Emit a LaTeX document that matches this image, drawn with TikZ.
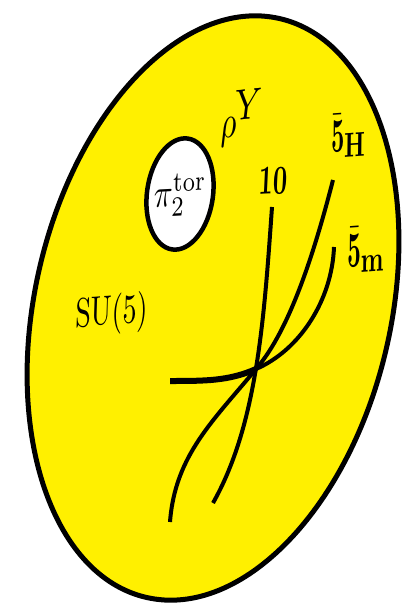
\documentclass[tikz,border=0pt]{standalone}
\usepackage{amsmath}
\usepackage{graphicx}
\definecolor{fillyellow}{RGB}{255,240,0}
\begin{document}
\begin{tikzpicture}[x=1pt,y=-1pt,
  wire/.style={line width=4pt},
  thickwire/.style={line width=6pt},
  lbl/.style={inner sep=0pt, outer sep=0pt, transform shape}
]
\useasboundingbox (0,0) rectangle (404,609);
\fill[white] (0,0) rectangle (404,609);
% outer surface
\draw[line width=5pt, fill=fillyellow, rotate around={-13:(213,308)}]
  (213,308) ellipse [x radius=178, y radius=297];
% hole
\draw[line width=4.5pt, fill=white, rotate around={-8:(180,194)}]
  (180,194) ellipse [x radius=33, y radius=56];
% curve coordinates
\coordinate (tA) at (272,207);
\coordinate (tB) at (213,503);
\coordinate (hA) at (333,180);
\coordinate (X)  at (256,369);
\coordinate (hB) at (170,522);
\coordinate (mA) at (334,247);
\coordinate (mB) at (170,381);
% 10 curve
\draw[wire] (tA) .. controls (264,320) and (257,425) .. (tB);
% 5H curve
\draw[wire] (hA) .. controls (315,250) and (290,330) .. (X)
            .. controls (214,420) and (175,455) .. (hB);
% 5m curve
\draw[wire] (mA) .. controls (332,300) and (300,350) .. (X);
\draw[thickwire] (X) .. controls (229,381) and (205,381) .. (mB);
% labels
\node[lbl, anchor=center, rotate=3, xslant=0.08, xscale=3.1, yscale=4.0] (pi) at (180,195)
  {$\pi_2^{\mathrm{tor}}$};
\node[lbl, anchor=base west, rotate=6, xslant=0.05, xscale=3.3, yscale=4.6] (rho) at (220,139)
  {$\rho^{\scalebox{1.35}{$\scriptstyle Y$}}$};
\node[lbl, anchor=base west, rotate=4, xslant=0.1, xscale=2.8, yscale=4.1] (su) at (75,327)
  {SU$(5)$};
\node[lbl, anchor=base west, rotate=3, xslant=0.1, xscale=2.5, yscale=4.1] (ten) at (258,195)
  {$\mathbf{10}$};
\node[lbl, anchor=base west, rotate=4, xslant=0.08, xscale=2.3, yscale=3.45] (fH) at (331,153)
  {\scalebox{1}[1.4]{$\bar{\mathbf{5}}$}\raisebox{-1.7pt}{$\mathbf{H}$}};
\node[lbl, anchor=base west, rotate=4, xslant=0.08, xscale=2.4, yscale=3.6] (fm) at (347,267)
  {\scalebox{1}[1.4]{$\bar{\mathbf{5}}$}\raisebox{-1.7pt}{$\mathbf{m}$}};
\end{tikzpicture}
\end{document}
